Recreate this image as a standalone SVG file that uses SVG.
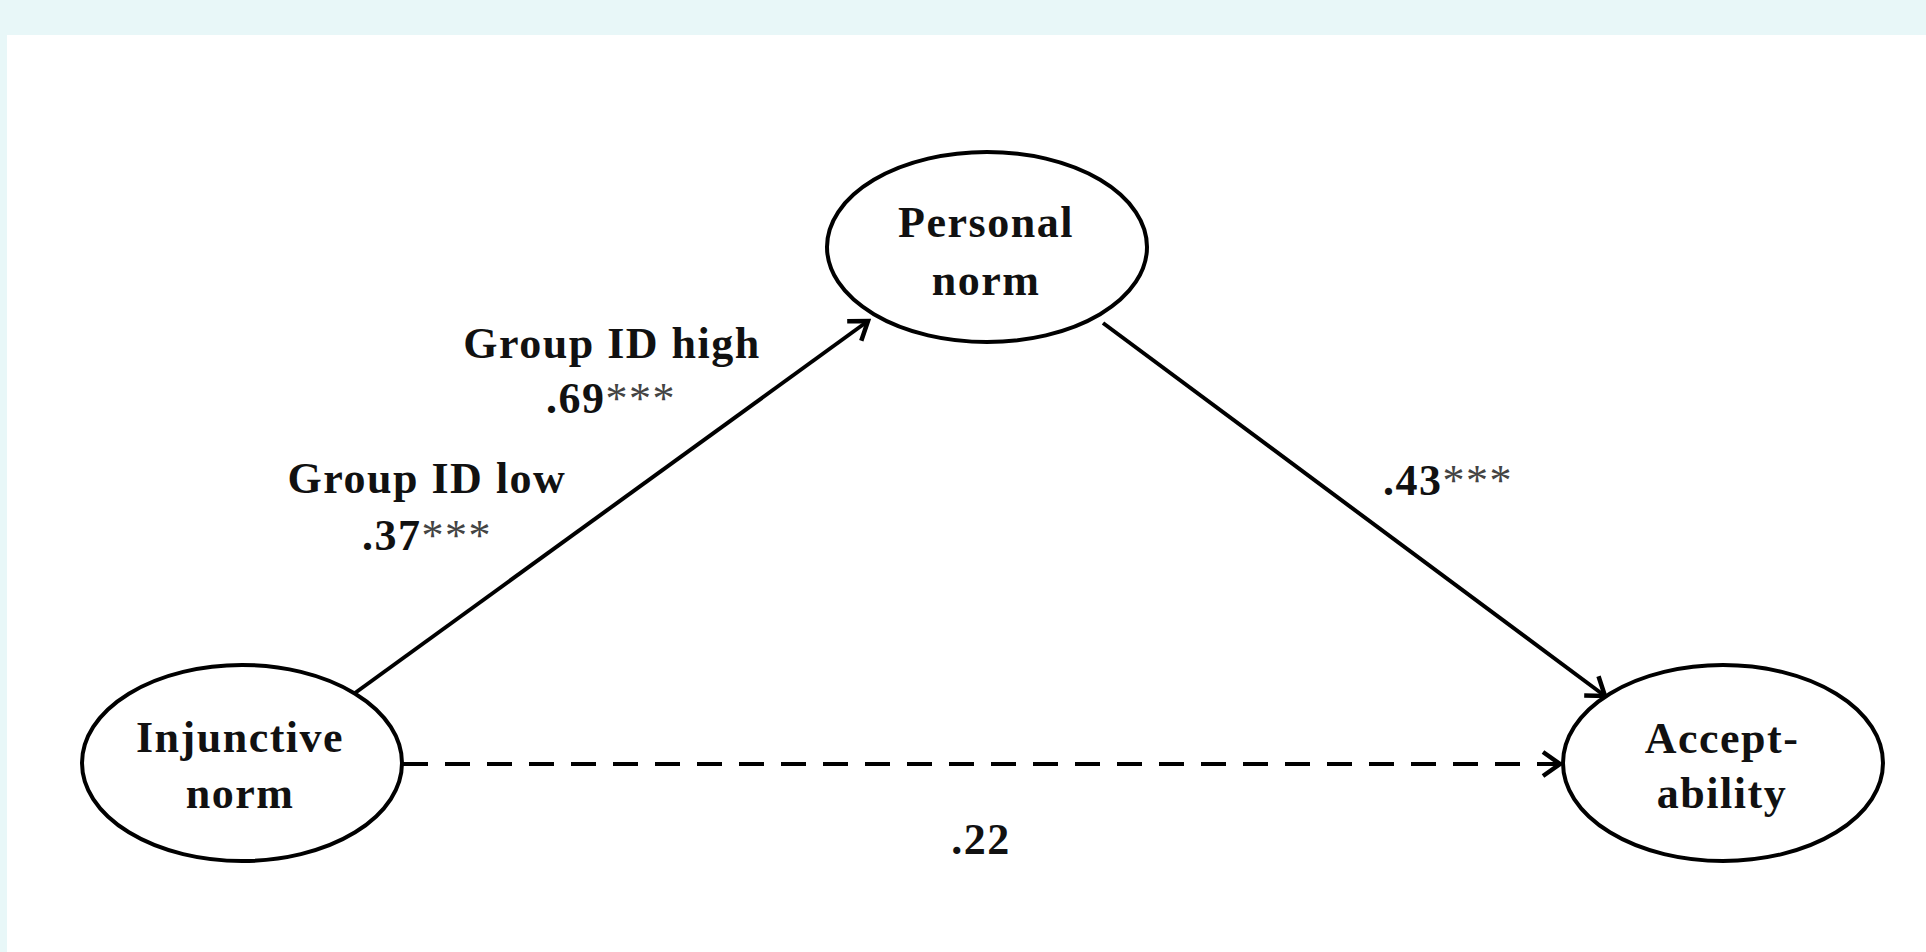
<svg xmlns="http://www.w3.org/2000/svg" width="1926" height="952" viewBox="0 0 1926 952">
<style>
.node ellipse{fill:#fff;stroke:#000;stroke-width:4}
.t{font-family:"Liberation Serif","Times New Roman",serif;font-weight:bold;font-size:44px;letter-spacing:1.5px;fill:#111;text-anchor:middle}
.ast{font-weight:normal;fill:#444}
.edge{stroke:#000;stroke-width:4;fill:none}
</style>
<defs>
<marker id="arr" markerUnits="userSpaceOnUse" markerWidth="24" markerHeight="28" viewBox="-20 -14 24 28" refX="0" refY="0" orient="auto">
<path d="M-17,-12 L0,0 L-17,12" fill="none" stroke="#000" stroke-width="4.5"/>
</marker>
</defs>
<rect x="0" y="0" width="1926" height="952" fill="#e8f7f8"/>
<rect x="7" y="35" width="1919" height="917" fill="#fff"/>
<g id="connectors">
<line class="edge" x1="355" y1="693" x2="868" y2="321" marker-end="url(#arr)"/>
<line class="edge" x1="1103" y1="323" x2="1605" y2="696" marker-end="url(#arr)"/>
<line class="edge" x1="403" y1="764" x2="1560" y2="764" stroke-dasharray="25 17" stroke-width="5" marker-end="url(#arr)"/>
</g>
<g id="node-personal" class="node">
<ellipse cx="987" cy="247" rx="160" ry="95"/>
<text class="t" x="986" y="237">Personal</text>
<text class="t" x="986" y="295">norm</text>
</g>
<g id="node-injunctive" class="node">
<ellipse cx="242" cy="763" rx="160" ry="98"/>
<text class="t" x="240" y="752">Injunctive</text>
<text class="t" x="240" y="808">norm</text>
</g>
<g id="node-acceptability" class="node">
<ellipse cx="1723" cy="763" rx="160" ry="98"/>
<text class="t" x="1722" y="753">Accept-</text>
<text class="t" x="1722" y="808">ability</text>
</g>
<g id="labels">
<text class="t" x="612" y="358">Group ID high</text>
<text class="t" x="611" y="413">.69<tspan class="ast">***</tspan></text>
<text class="t" x="427" y="493">Group ID low</text>
<text class="t" x="427" y="550">.37<tspan class="ast">***</tspan></text>
<text class="t" x="1448" y="495">.43<tspan class="ast">***</tspan></text>
<text class="t" x="981" y="854">.22</text>
</g>
</svg>
